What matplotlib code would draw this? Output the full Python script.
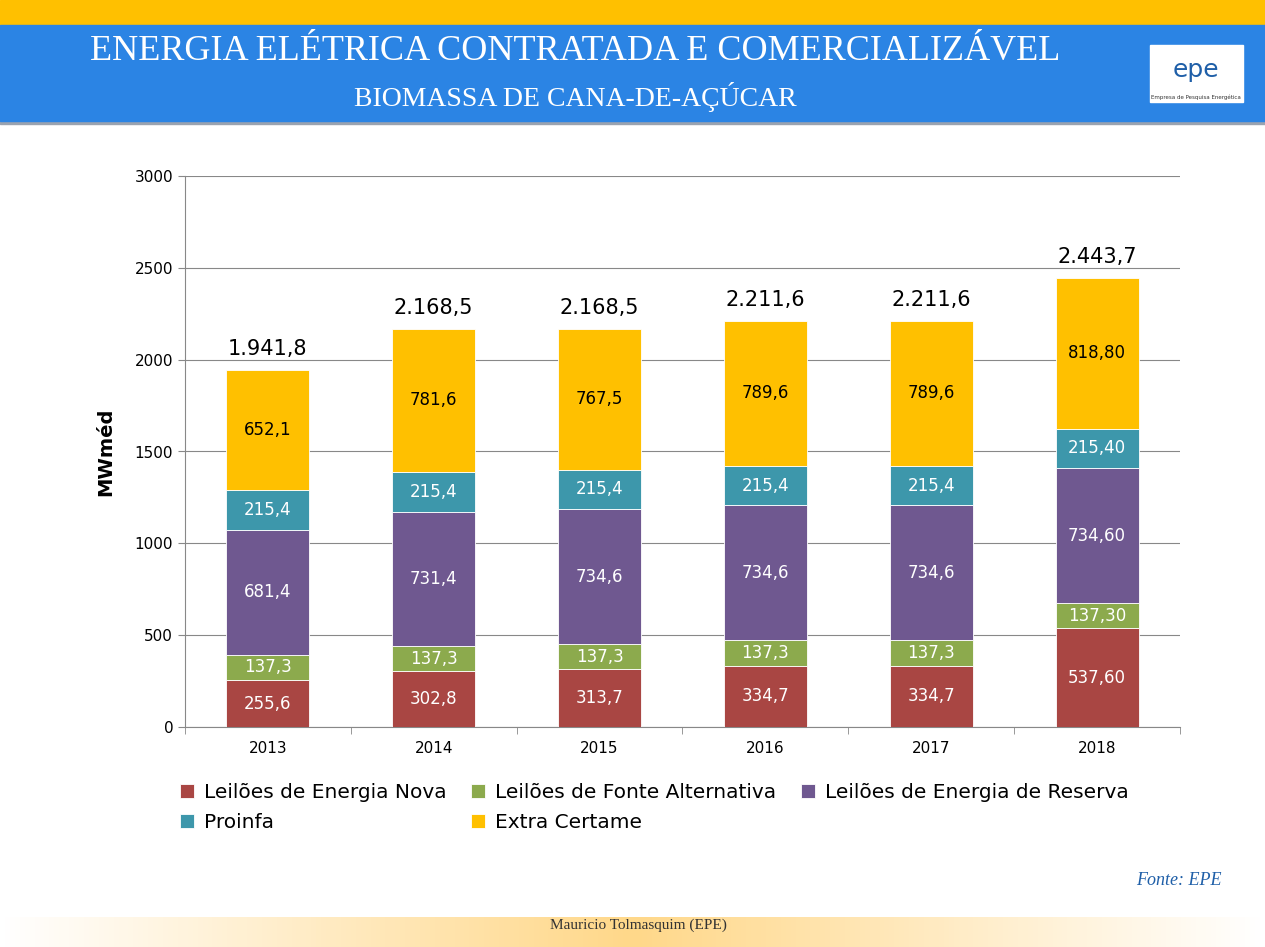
import matplotlib
matplotlib.use("Agg")
import matplotlib.pyplot as plt
from matplotlib.patches import Rectangle
import numpy as np

years = ["2013", "2014", "2015", "2016", "2017", "2018"]
series_names = ["Leilões de Energia Nova", "Leilões de Fonte Alternativa",
                "Leilões de Energia de Reserva", "Proinfa", "Extra Certame"]
nova = [255.6, 302.8, 313.7, 334.7, 334.7, 537.6]
alternativa = [137.3, 137.3, 137.3, 137.3, 137.3, 137.3]
reserva = [681.4, 731.4, 734.6, 734.6, 734.6, 734.6]
proinfa = [215.4, 215.4, 215.4, 215.4, 215.4, 215.4]
extra = [652.1, 781.6, 767.5, 789.6, 789.6, 818.8]
seg_labels = [
    ["255,6", "302,8", "313,7", "334,7", "334,7", "537,60"],
    ["137,3", "137,3", "137,3", "137,3", "137,3", "137,30"],
    ["681,4", "731,4", "734,6", "734,6", "734,6", "734,60"],
    ["215,4", "215,4", "215,4", "215,4", "215,4", "215,40"],
    ["652,1", "781,6", "767,5", "789,6", "789,6", "818,80"],
]
totals = ["1.941,8", "2.168,5", "2.168,5", "2.211,6", "2.211,6", "2.443,7"]
colors = ["#A94643", "#8CAA4D", "#6F5890", "#3D97AB", "#FFC000"]
text_colors = ["white", "white", "white", "white", "black"]

fig = plt.figure(figsize=(12.65, 9.47), dpi=100)
W, H = 1265, 947

def fx(x): return x / W
def fy(y): return 1 - y / H

# header
fig.patches.append(Rectangle((0, fy(25)), 1, 25 / H, transform=fig.transFigure,
                             color="#FFC000", zorder=0))
fig.patches.append(Rectangle((0, fy(124)), 1, 4 / H, transform=fig.transFigure,
                             color="#9AA3B0", zorder=0))
fig.patches.append(Rectangle((0, fy(121)), 1, 96 / H, transform=fig.transFigure,
                             color="#2B84E4", zorder=1))
fig.text(fx(575), fy(52), "ENERGIA ELÉTRICA CONTRATADA E COMERCIALIZÁVEL",
         ha="center", va="center", color="white", fontsize=26,
         family="Liberation Serif")
fig.text(fx(575), fy(97), "BIOMASSA DE CANA-DE-AÇÚCAR", ha="center",
         va="center", color="white", fontsize=20, family="Liberation Serif")
fig.patches.append(Rectangle((fx(1150), fy(102)), 93 / W, 57 / H,
                             transform=fig.transFigure, color="white", zorder=2))
fig.text(fx(1196), fy(70), "epe", ha="center", va="center", color="#1F5FA8",
         fontsize=18, zorder=3)
fig.text(fx(1196), fy(97), "Empresa de Pesquisa Energética", ha="center",
         va="center", color="#333333", fontsize=4, zorder=3)

# bottom band
grad = np.linspace(0, 1, 256)
grad = np.minimum(grad, grad[::-1]) * 2
bax = fig.add_axes([0, 0, 1, 30 / H])
bax.imshow(grad[None, :], aspect="auto", cmap=matplotlib.colors.LinearSegmentedColormap.from_list(
    "g", ["white", "#FFD88A"]), extent=[0, 1, 0, 1])
bax.axis("off")
fig.text(fx(638), fy(925), "Mauricio Tolmasquim (EPE)", ha="center",
         va="center", fontsize=11, family="Liberation Serif", color="#333333")
fig.text(fx(1222), fy(880), "Fonte: EPE", ha="right", va="center",
         fontsize=13, style="italic", family="Liberation Serif", color="#1F5FA8")

ax = fig.add_axes([fx(185), fy(727), (1180 - 185) / W, (727 - 176) / H])
x = np.arange(len(years))
data = [nova, alternativa, reserva, proinfa, extra]
bottom = np.zeros(len(years))
for i, vals in enumerate(data):
    vals = np.array(vals)
    ax.bar(x, vals, 0.5, bottom=bottom, color=colors[i], label=series_names[i],
           edgecolor="white", linewidth=0.6, zorder=3)
    for j in range(len(years)):
        ax.text(x[j], bottom[j] + vals[j] / 2, seg_labels[i][j], ha="center",
                va="center", color=text_colors[i], fontsize=12, zorder=4)
    bottom += vals
for j in range(len(years)):
    ax.text(x[j], bottom[j] + 60, totals[j], ha="center", va="bottom",
            fontsize=15, zorder=4)

ax.set_xlim(-0.5, 5.5)
ax.set_ylim(0, 3000)
ax.set_yticks(range(0, 3001, 500))
ax.set_xticks(x)
ax.set_xticklabels(years)
ax.set_xticks(np.arange(-0.5, 6, 1), minor=True)
ax.tick_params(axis="x", which="major", length=0, labelsize=11, pad=10)
ax.tick_params(axis="x", which="minor", length=5, color="#888888")
ax.tick_params(axis="y", labelsize=11, length=5, color="#888888")
ax.grid(axis="y", color="#888888", linewidth=0.8, zorder=0)
for s in ["top", "right"]:
    ax.spines[s].set_visible(False)
for s in ["left", "bottom"]:
    ax.spines[s].set_color("#888888")
ax.set_ylabel("MWméd", fontsize=14, fontweight="bold", labelpad=14)

handles, labels = ax.get_legend_handles_labels()
order = [0, 3, 1, 4, 2]
fig.legend([handles[k] for k in order], [labels[k] for k in order],
           loc="upper left", bbox_to_anchor=(fx(162), fy(765)),
           ncol=3, frameon=False, fontsize=14.5, handlelength=0.7, handleheight=0.7,
           columnspacing=1.2, handletextpad=0.5, labelspacing=0.55)

fig.savefig("out.png", dpi=100)
